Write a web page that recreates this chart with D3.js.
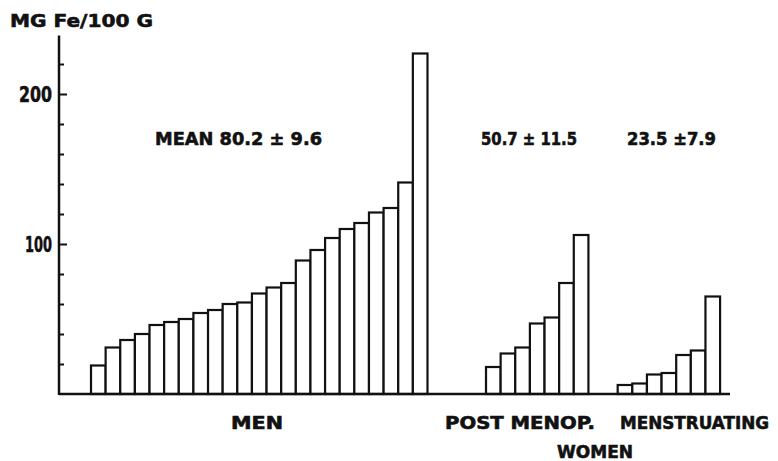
<!DOCTYPE html>
<html>
<head>
<meta charset="utf-8">
<script src="https://cdn.jsdelivr.net/npm/d3@7"></script>
<style>
  body { margin: 0; background: #fff; }
  text { font-family: "DejaVu Sans", sans-serif; font-weight: bold; fill: #111; }
  .heavy { stroke: #111; stroke-width: 0.6; }
</style>
</head>
<body>
<div class="chart"></div>
<script>
//iron values (mg Fe / 100 g)
var menValues = [19, 31, 36, 40, 46, 48, 50, 54, 56, 60, 61, 67, 71, 74, 89, 96, 104, 110, 114, 121, 124, 141, 227];
var postMenopValues = [18, 27, 31, 47, 51, 74, 106];
var menstruatingValues = [6, 7, 13, 14, 26, 29, 65];

//group labels and means
var groupNames = ["MEN", "POST MENOP.", "MENSTRUATING"];
var meanLabels = ["MEAN 80.2 \u00b1 9.6", "50.7 \u00b1 11.5", "23.5 \u00b17.9"];
var minorTicks = [20, 40, 60, 80, 120, 140, 160, 180, 220];
var majorTicks = [100, 200];

//svg container
var svgWidth = 778;
var svgHeight = 461;

var svg = d3.select(".chart").append("svg")
    .attr("width", svgWidth)
    .attr("height", svgHeight);

//one slot per bar, blank slots between the groups
var gapAfterMen = 4;
var gapAfterPost = 2;
var slots = [];
menValues.forEach(function(v, i) { slots.push({ id: "m" + i, value: v }); });
for (var i = 0; i < gapAfterMen; i++) slots.push({ id: "g1_" + i, value: null });
postMenopValues.forEach(function(v, i) { slots.push({ id: "p" + i, value: v }); });
for (var j = 0; j < gapAfterPost; j++) slots.push({ id: "g2_" + j, value: null });
menstruatingValues.forEach(function(v, i) { slots.push({ id: "s" + i, value: v }); });

var bars = slots.filter(function(d) { return d.value !== null; });

//scales
var axisX = 59;
var xBand = d3.scaleBand()
    .domain(slots.map(function(d) { return d.id; }))
    .range([91, 91 + slots.length * 14.63])
    .padding(0);

var yLinearScale = d3.scaleLinear()
    .domain([0, 200])
    .range([394, 94]);

//bars
svg.append("g").selectAll("rect")
    .data(bars)
    .enter()
    .append("rect")
    .attr("x", function(d) { return xBand(d.id); })
    .attr("y", function(d) { return yLinearScale(d.value); })
    .attr("width", xBand.bandwidth())
    .attr("height", function(d) { return yLinearScale(0) - yLinearScale(d.value); })
    .attr("fill", "white")
    .attr("stroke", "#111")
    .attr("stroke-width", 2.2);

//baseline
svg.append("line")
    .attr("x1", axisX)
    .attr("x2", 730)
    .attr("y1", yLinearScale(0))
    .attr("y2", yLinearScale(0))
    .attr("stroke", "#111")
    .attr("stroke-width", 2.5);

//y axis line
svg.append("line")
    .attr("x1", axisX)
    .attr("x2", axisX)
    .attr("y1", yLinearScale(0) + 1)
    .attr("y2", yLinearScale(239))
    .attr("stroke", "#111")
    .attr("stroke-width", 2.5);

//ticks point inwards
svg.append("g")
    .attr("transform", "translate(" + axisX + ",0)")
    .call(d3.axisRight(yLinearScale).tickValues(minorTicks).tickSize(5).tickFormat(""));
svg.append("g")
    .attr("transform", "translate(" + axisX + ",0)")
    .call(d3.axisRight(yLinearScale).tickValues(majorTicks).tickSize(8).tickFormat(""));
svg.selectAll(".domain").remove();
svg.selectAll(".tick line").attr("stroke", "#111").attr("stroke-width", 2);

//tick labels on the left, narrow digits
var labelAxis = svg.append("g")
    .attr("transform", "translate(" + (axisX - 7) + ",0)")
    .call(d3.axisLeft(yLinearScale).tickValues(majorTicks).tickSize(0).tickPadding(0));
labelAxis.select(".domain").remove();
labelAxis.selectAll("text")
    .attr("class", "heavy")
    .attr("font-family", "'DejaVu Sans', sans-serif")
    .attr("font-size", 22)
    .attr("font-weight", "bold")
    .attr("fill", "#111")
    .attr("textLength", function(d) { return d === 100 ? 27 : 33; })
    .attr("lengthAdjust", "spacingAndGlyphs");

//helper for the squarish typewriter labels
function label(x, y, txt, width, size) {
    return svg.append("text")
        .attr("class", "heavy")
        .attr("x", x)
        .attr("y", y)
        .attr("font-size", size)
        .attr("textLength", width)
        .attr("lengthAdjust", "spacingAndGlyphs")
        .text(txt);
}

//unit title
label(10, 27, "MG Fe/100 G", 143, 17.5);

//means above each group
var meanX = [155, 481, 627];
var meanW = [167, 96, 89];
meanLabels.forEach(function(d, i) {
    label(meanX[i], 145, d, meanW[i], 18);
});

//group labels
var groupX = [231, 445, 620];
var groupW = [52, 150, 149];
groupNames.forEach(function(d, i) {
    label(groupX[i], 429, d, groupW[i], 17);
});
label(557, 458, "WOMEN", 76, 17);
</script>
</body>
</html>
